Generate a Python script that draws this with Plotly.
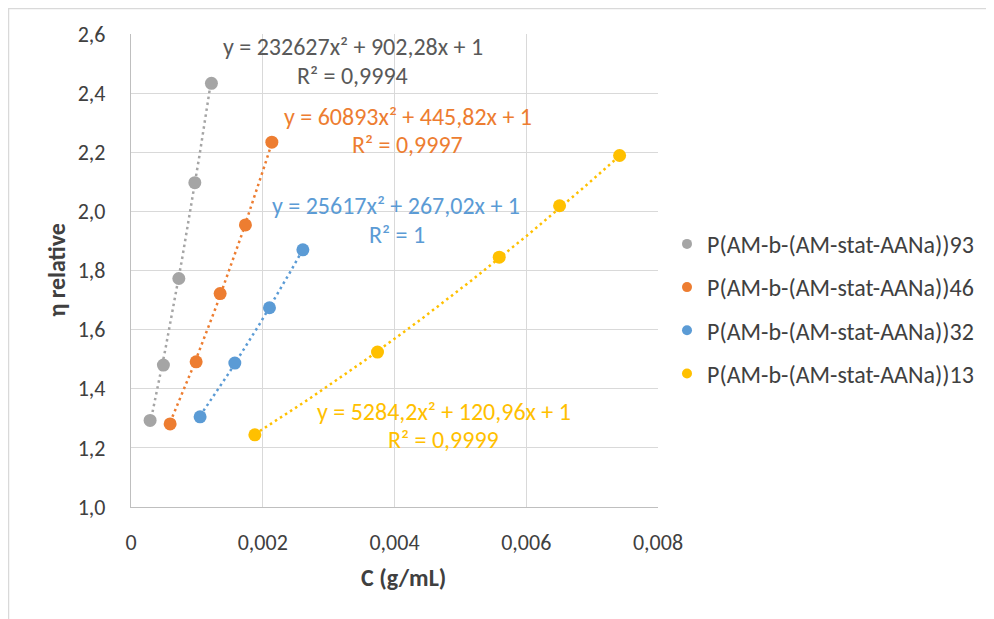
import numpy as np
import plotly.graph_objects as go

# ---- data ----
series_names = ["P(AM-b-(AM-stat-AANa))93", "P(AM-b-(AM-stat-AANa))46",
                "P(AM-b-(AM-stat-AANa))32", "P(AM-b-(AM-stat-AANa))13"]
x_93 = [0.000290, 0.000492, 0.000726, 0.000969, 0.001221]
y_93 = [1.293, 1.480, 1.773, 2.097, 2.433]
x_46 = [0.000594, 0.000989, 0.001353, 0.001737, 0.002138]
y_46 = [1.281, 1.491, 1.722, 1.954, 2.234]
x_32 = [0.001049, 0.001576, 0.002102, 0.002609]
y_32 = [1.305, 1.487, 1.674, 1.870]
x_13 = [0.00188, 0.003742, 0.00559, 0.006506, 0.007417]
y_13 = [1.244, 1.524, 1.845, 2.019, 2.189]

# trendline coefficients (a, b, c) of y = a x^2 + b x + c, from the labels
coef_93 = [232627, 902.28, 1]
coef_46 = [60893, 445.82, 1]
coef_32 = [25617, 267.02, 1]
coef_13 = [5284.2, 120.96, 1]

eq_texts = ["y = 232627x² + 902,28x + 1", "y = 60893x² + 445,82x + 1",
            "y = 25617x² + 267,02x + 1", "y = 5284,2x² + 120,96x + 1"]
r2_texts = ["R² = 0,9994", "R² = 0,9997", "R² = 1", "R² = 0,9999"]

x_tickvals = [0, 0.002, 0.004, 0.006, 0.008]
x_ticktext = ["0", "0,002", "0,004", "0,006", "0,008"]
y_tickvals = [1.0, 1.2, 1.4, 1.6, 1.8, 2.0, 2.2, 2.4, 2.6]
y_ticktext = ["1,0", "1,2", "1,4", "1,6", "1,8", "2,0", "2,2", "2,4", "2,6"]

colors = ["#A5A5A5", "#ED7D31", "#5B9BD5", "#FFC000"]
label_colors = ["#595959", "#ED7D31", "#5B9BD5", "#FFC000"]

FONT = "Carlito, Calibri, Lato, sans-serif"

xs = [x_93, x_46, x_32, x_13]
ys = [y_93, y_46, y_32, y_13]
coefs = [coef_93, coef_46, coef_32, coef_13]

fig = go.Figure()

# trendlines
for x, c, col in zip(xs, coefs, colors):
    xt = np.linspace(min(x), max(x), 60)
    yt = np.polyval(c, xt)
    fig.add_trace(go.Scatter(x=xt, y=yt, mode="lines", showlegend=False,
                             hoverinfo="skip",
                             line=dict(color=col, width=2.5, dash="2.5px,3.5px")))

# markers
for x, y, col, name in zip(xs, ys, colors, series_names):
    fig.add_trace(go.Scatter(x=x, y=y, mode="markers", name=name,
                             showlegend=False,
                             marker=dict(color=col, size=13)))

# legend-only entries
for i, (col, name) in enumerate(zip(colors, series_names)):
    fig.add_trace(go.Scatter(x=[None], y=[None], mode="markers", name=name,
                             legendgroup=f"g{i}",
                             marker=dict(color=col, size=10)))

# page offset (html body margin) and plot-area geometry in page pixels
OFF = 8
L, R, T, B = 131, 658, 34, 507.5
W, H = 994 - OFF, 619 - OFF


def px(xp):
    return (xp - L) / (R - L)


def py(yp):
    return (B - yp) / (B - T)


annots = []
eq_pos = [(352.5, 46.7), (407.5, 116.7), (396, 206), (444, 411.7)]
r2_pos = [(352, 75.5), (407.5, 145), (396.5, 235), (443.5, 440)]
for i in range(4):
    annots.append(dict(x=px(eq_pos[i][0]), y=py(eq_pos[i][1]), xref="paper", yref="paper",
                       text=eq_texts[i], showarrow=False, xanchor="center", yanchor="middle",
                       font=dict(family=FONT, size=24, color=label_colors[i])))
    annots.append(dict(x=px(r2_pos[i][0]), y=py(r2_pos[i][1]), xref="paper", yref="paper",
                       text=r2_texts[i], showarrow=False, xanchor="center", yanchor="middle",
                       font=dict(family=FONT, size=24, color=label_colors[i])))

# axis titles
annots.append(dict(x=px(403), y=py(578), xref="paper", yref="paper", text="<b>C (g/mL)</b>",
                   showarrow=False, xanchor="center", yanchor="middle",
                   font=dict(family=FONT, size=24, color="#404040")))
annots.append(dict(x=px(57), y=py(270), xref="paper", yref="paper", text="<b>η relative</b>",
                   showarrow=False, xanchor="center", yanchor="middle", textangle=-90,
                   font=dict(family=FONT, size=24, color="#404040")))

fig.update_layout(
    width=W, height=H,
    margin=dict(l=L - OFF, r=W - (R - OFF), t=T - OFF, b=H - (B - OFF)),
    paper_bgcolor="white", plot_bgcolor="white",
    font=dict(family=FONT, size=22, color="#404040"),
    annotations=annots,
    showlegend=True,
    legend=dict(x=px(667), y=py(222), xanchor="left", yanchor="top",
                font=dict(family=FONT, size=24, color="#404040"),
                tracegroupgap=9, itemwidth=30, bgcolor="rgba(0,0,0,0)"),
    shapes=[dict(type="rect", xref="paper", yref="paper",
                 x0=px(8.5), x1=px(1200), y0=py(800), y1=py(8.5),
                 line=dict(color="#D9D9D9", width=1.5), layer="below")],
)

fig.update_xaxes(range=[0, 0.008], tickvals=x_tickvals, ticktext=x_ticktext,
                 showgrid=True, gridcolor="#D9D9D9", gridwidth=1.3,
                 showline=True, linecolor="#BFBFBF", linewidth=1.3, mirror=False,
                 zeroline=False, ticks="", ticklabelstandoff=15,
                 tickfont=dict(family=FONT, size=22, color="#404040"))
fig.update_yaxes(range=[1.0, 2.6], tickvals=y_tickvals, ticktext=y_ticktext,
                 showgrid=True, gridcolor="#D9D9D9", gridwidth=1.3,
                 showline=True, linecolor="#BFBFBF", linewidth=1.3,
                 zeroline=False, ticks="", ticklabelstandoff=20,
                 tickfont=dict(family=FONT, size=22, color="#404040"))

fig.write_html("out.html")
